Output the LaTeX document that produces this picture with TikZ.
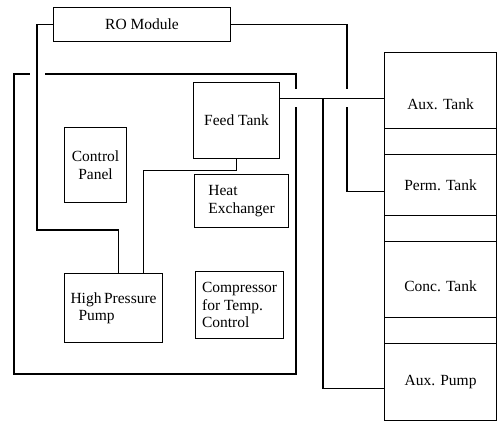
\documentclass[tikz,border=0pt]{standalone}
\usepackage{fontspec}
\setmainfont{Liberation Serif}
\usetikzlibrary{positioning}

\begin{document}
\begin{tikzpicture}[
    x=1pt, y=-1pt,
    font=\fontsize{15.5}{17.5}\selectfont,
    unit/.style={draw, line width=1.1pt, anchor=north west, inner sep=2pt, align=center},
    tank/.style={unit, minimum width=112pt},
    wire/.style={line width=1.1pt}
]
\useasboundingbox (0,0) rectangle (500,421);

% --- Units on the skid ---
\node[unit, minimum width=177pt, minimum height=34pt] (ro) at (53,7) {RO Module};
\node[unit, minimum width=86pt, minimum height=76pt]  (feed) at (193,82) {Feed Tank};
\node[unit, minimum width=62pt, minimum height=75pt]  (ctrl) at (64,127) {Control\\Panel};
\node[unit, minimum width=94pt, minimum height=53pt, align=left] (heat) at (194,174) {Heat\\Exchanger};
\node[unit, minimum width=98pt, minimum height=69pt, align=left] (hpp) at (64,273)
  {High\,Pressure\\\hspace*{8pt}Pump};
\node[unit, minimum width=88pt, minimum height=67pt, align=left] (comp) at (195,271)
  {Compressor\\for Temp.\\Control};

% --- Tank stack, right ---
\node[tank, minimum height=76pt, text height=38pt] (aux)  at (384,52)  {Aux. Tank};
\node[tank, minimum height=26pt]                   (gapa) at (384,128) {};
\node[tank, minimum height=61pt]                   (perm) at (384,154) {Perm. Tank};
\node[tank, minimum height=26pt]                   (gapb) at (384,215) {};
\node[tank, minimum height=76pt, text height=24pt] (conc) at (384,241) {Conc. Tank};
\node[tank, minimum height=26pt]                   (gapc) at (384,317) {};
\node[tank, minimum height=77pt]                   (pump) at (384,343) {Aux. Pump};

% Skid frame, broken where pipes pass
\draw[wire] (45,74) -- (296,74) -- (296,89);
\draw[wire] (296,107) |- (14,374) |- (30,74);

% --- Pipes ---
\coordinate (tee) at (323,98);
\draw[wire] (ro.west) -| (37,230) -| ([xshift=5pt]hpp.north);
\draw[wire] (feed.south) -- ++(0,11) -| ([xshift=30pt]hpp.north);
\draw[wire] ([yshift=22pt]feed.east) -- ([yshift=22pt]feed.east -| aux.west);
\draw[wire] (tee) |- ([yshift=-6pt]pump.west);
\draw[wire] (ro.east) -| (347,89);
\draw[wire] (347,107) |- ([yshift=-6pt]perm.west);

\end{tikzpicture}
\end{document}
